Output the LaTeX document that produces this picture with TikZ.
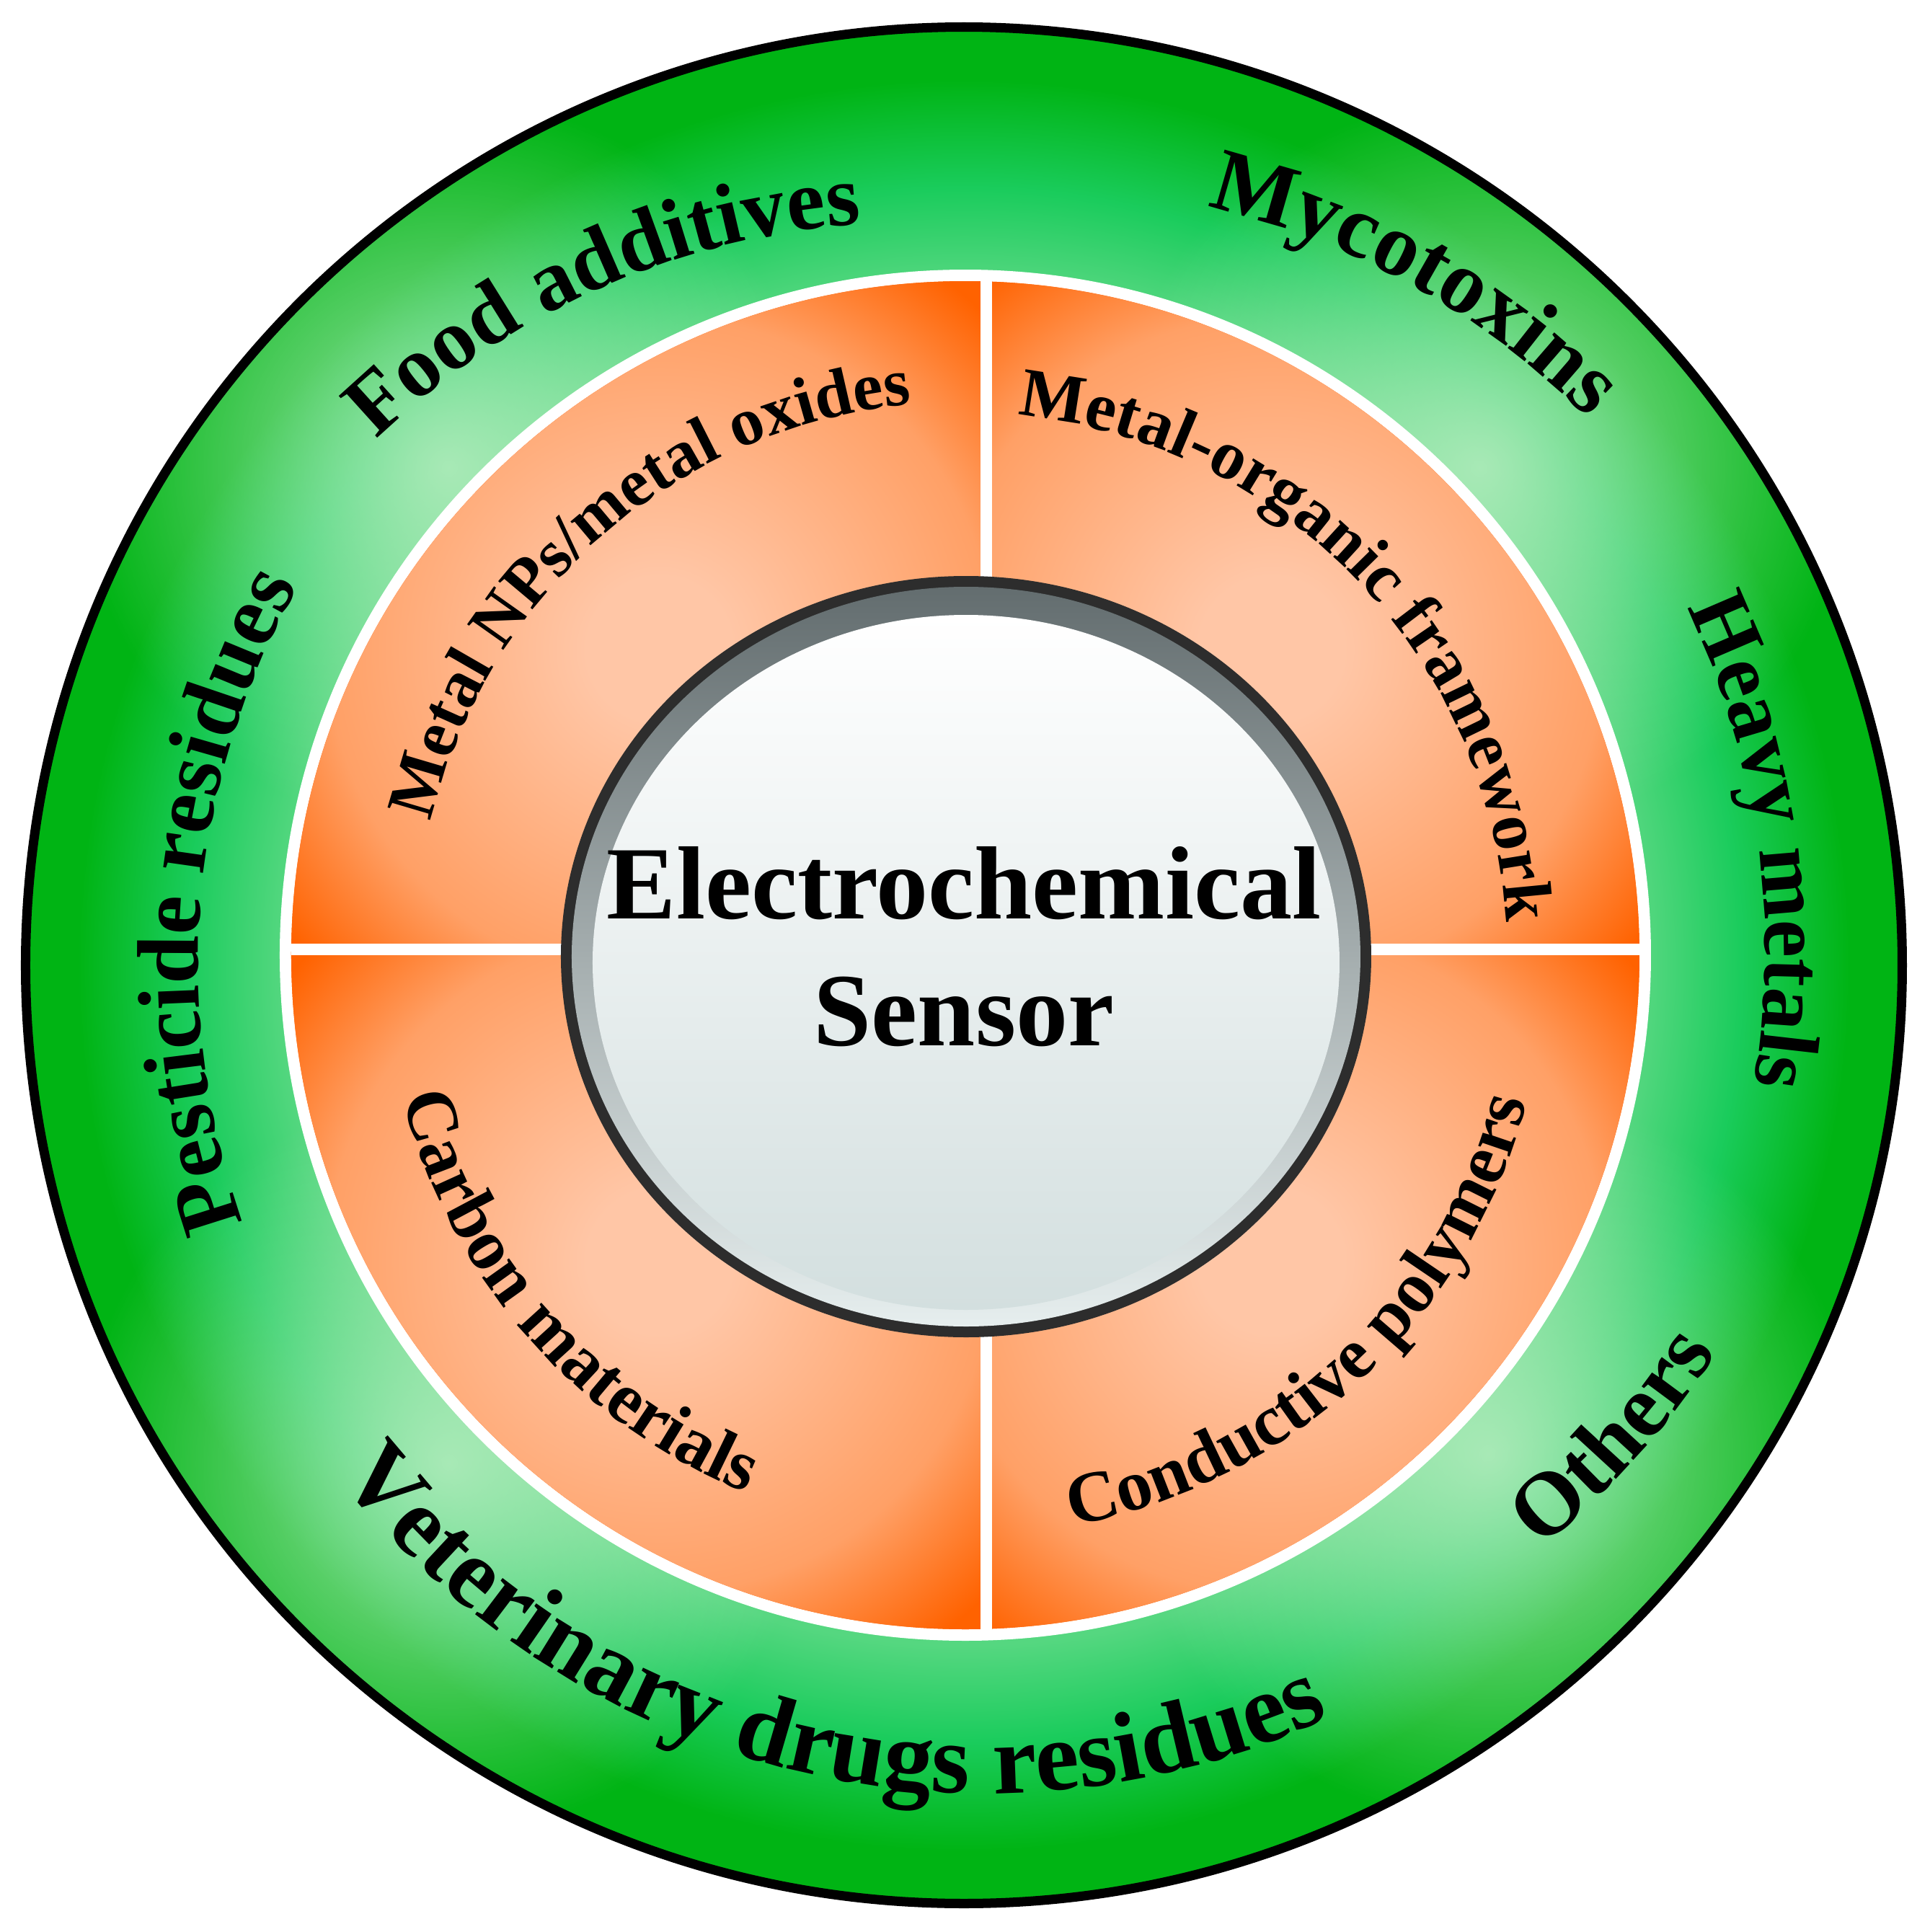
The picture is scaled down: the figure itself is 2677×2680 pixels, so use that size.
\documentclass[tikz,border=0pt]{standalone}
\usepackage{fontspec}
\setmainfont{Liberation Serif}
\usetikzlibrary{decorations.text,fadings}

\definecolor{gdark}{HTML}{00B414}
\definecolor{gmid}{HTML}{1ACC5C}
\definecolor{glight}{HTML}{55D780}
\definecolor{gglow}{HTML}{B4ECBE}
\definecolor{odark}{HTML}{FF6200}
\definecolor{omid}{HTML}{FFA066}
\definecolor{opeach}{HTML}{FFC6A6}
\definecolor{cborder}{HTML}{2D2D2D}
\definecolor{bevtop}{HTML}{636D6F}
\definecolor{bevbot}{HTML}{E6EEEE}
\definecolor{facemid}{HTML}{E6ECEC}
\definecolor{facebot}{HTML}{D3DFDF}

% radial shadings: 25bp corresponds to the radius of the shaded circle
\pgfdeclareradialshading{greenring}{\pgfpoint{0bp}{0bp}}{color(0bp)=(glight); color(18.2bp)=(glight); color(20.8bp)=(gmid); color(23.7bp)=(gdark); color(25bp)=(gdark); color(50bp)=(gdark)}
\pgfdeclareradialshading{orq}{\pgfpoint{0bp}{0bp}}{color(0bp)=(opeach); color(3.5bp)=(opeach); color(16bp)=(omid); color(22.5bp)=(odark); color(25bp)=(odark); color(50bp)=(odark)}
\tikzfading[name=glowfade, inner color=transparent!10, outer color=transparent!100]

\newcommand\myof[1]{\fontsize{#1}{#1}\selectfont\bfseries}

\tikzset{
  arctext/.style={decorate, decoration={text along path, text={#1}, text align=center}},
  divider/.style={white, line width=0.16cm},
  titletext/.style={font=\fontsize{41}{48}\selectfont\bfseries, anchor=base, inner sep=0pt}
}

\begin{document}
\begin{tikzpicture}[x=0.01cm,y=0.01cm]
\useasboundingbox (-1337,-1341) rectangle (1340,1339);
\fill[white] (-1337,-1341) rectangle (1340,1339);
\coordinate (O) at (0,0);
\coordinate (OC) at (2,14);
\coordinate (CC) at (3,12);

% green ring
\shade[shading=greenring] (O) circle[radius=1296];
\begin{scope}
  \clip (O) circle[radius=1296];
  \foreach \a in {44,136,224,317}
    \fill[gglow, path fading=glowfade] (\a:995) circle[radius=510];
\end{scope}
\draw[black, line width=0.13cm] (O) circle[radius=1301.5];

% orange disk with white rim
\fill[white] (OC) circle[radius=951];
\fill[odark] (OC) circle[radius=935];
\foreach \a/\xa/\ya/\xb/\yb in {45/31/22/1100/1100, 135/-1100/22/31/1100, 225/-1100/-1100/31/22, 315/31/-1100/1100/22} {
  \begin{scope}
    \clip (OC) circle[radius=935];
    \clip (\xa,\ya) rectangle (\xb,\yb);
    \shade[shading=orq, shift={(2,14)}] (\a:600) circle[radius=720];
  \end{scope}
}
\coordinate (vtop) at (31,949);
\coordinate (vbot) at (31,-921);
\coordinate (hleft) at (-933,22);
\coordinate (hright) at (937,22);
\draw[divider] (vtop) -- (vbot);
\draw[divider] (hleft) -- (hright);

% center button
\fill[cborder] (CC) ellipse[x radius=562, y radius=528];
\shade[top color=bevtop, bottom color=bevbot] (CC) ellipse[x radius=547, y radius=513];
\shade[top color=white, middle color=facemid, bottom color=facebot] (3,4) ellipse[x radius=518, y radius=482];

\node[titletext] (t1) at (0,65) {Electrochemical};
\node[titletext] (t2) at (0,-111) {Sensor};

% outer texts
\path[shift={(-72.7,-38.1)}, arctext={|\myof{34.2}|Food additives}] (173.9:1068) arc[start angle=173.9, end angle=53.9, radius=1068];
\path[shift={(89.9,-14.5)}, arctext={|\myof{35.3}|Mycotoxins}] (120.9:1095) arc[start angle=120.9, end angle=0.9, radius=1095];
\path[shift={(11.1,20)}, arctext={|\myof{33.6}|Heavy metals}] (67.95:1100) arc[start angle=67.95, end angle=-52.05, radius=1100];
\path[arctext={|\myof{34.5}|Pesticide residues}] (235:1062) arc[start angle=235, end angle=115, radius=1062];
\path[shift={(91.8,75)}, arctext={|\myof{35.5}|Others}] (-102:1132) arc[start angle=-102, end angle=18, radius=1132];
\path[shift={(30.3,-13.5)}, arctext={|\myof{39.1}|Veterinary drugs residues}] (196.3:1135) arc[start angle=196.3, end angle=316.3, radius=1135];

% inner texts
\begin{scope}[shift={(2,14)}]
\path[shift={(-8,15)}, arctext={|\myof{26.7}|Metal NPs/metal oxides}] (191:752) arc[start angle=191, end angle=71, radius=752];
\path[arctext={|\myof{27.3}|Metal-organic framework}] (104:752) arc[start angle=104, end angle=-16, radius=752];
\path[arctext={|\myof{28.5}|Carbon materials}] (161:805) arc[start angle=161, end angle=281, radius=805];
\path[arctext={|\myof{28.5}|Conductive polymers}] (-107:805) arc[start angle=-107, end angle=13, radius=805];
\end{scope}
\end{tikzpicture}
\end{document}
